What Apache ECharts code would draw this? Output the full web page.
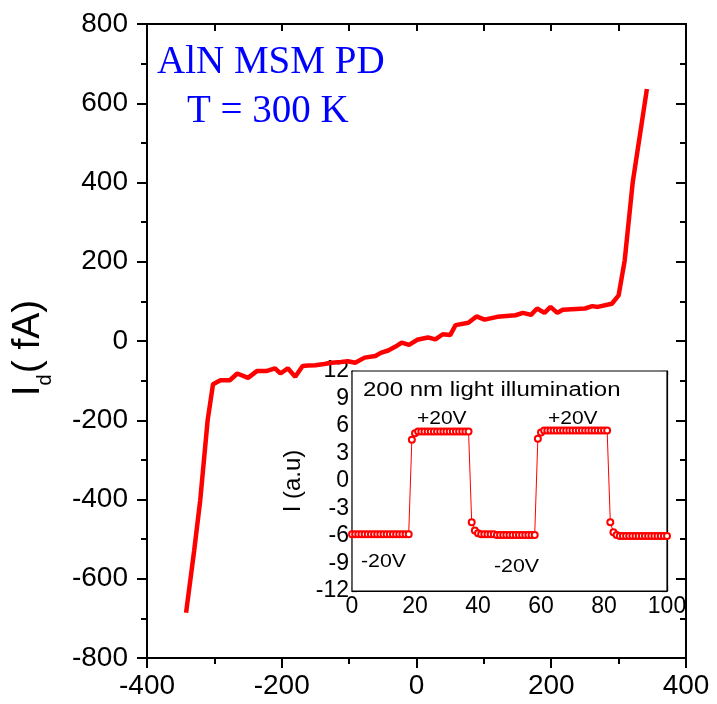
<!DOCTYPE html>
<html>
<head>
<meta charset="utf-8">
<script src="https://cdn.jsdelivr.net/npm/echarts@6/dist/echarts.min.js"></script>
<style>html,body{margin:0;padding:0;background:#fff;}#c{width:717px;height:704px;}</style>
</head>
<body>
<div id="c"></div>
<script>
// Main I-V curve (bias V, dark current fA)
var mainV = [-342,-330,-321,-310,-302,-291,-277,-266,-250,-237,-223,-210,-202,-191,-180,-169,-161,-150,-137,-126,-112,-102,-91,-77,-61,-53,-42,-31,-22,-11,1,17,28,39,50,58,77,89,101,120,147,158,170,179,190,199,209,217,250,261,269,290,300,309,321,342];
var mainI = [-686,-529,-402,-200,-109,-99,-99,-82,-93,-76,-76,-69,-82,-69,-90,-63,-62,-61,-58,-55,-53,-51,-55,-42,-38,-30,-24,-14,-4,-10,3,9,4,17,15,40,46,62,54,61,65,71,66,82,71,86,71,79,82,88,86,94,115,203,401,636];

// Inset: photocurrent switching (time, I a.u.)
var insetT = [0,1,2,3,4,5,6,7,8,9,10,11,12,13,14,15,16,17,18,
  19,20,21,22,23,24,25,26,27,28,29,30,31,32,33,34,35,36,37,
  38,39,40,41,42,43,44,45,46,47,48,49,50,51,52,53,54,55,56,57,58,
  59,60,61,62,63,64,65,66,67,68,69,70,71,72,73,74,75,76,77,78,79,80,81,
  82,83,84,85,86,87,88,89,90,91,92,93,94,95,96,97,98,99,100];
var insetI = [-5.8,-5.8,-5.8,-5.8,-5.8,-5.8,-5.8,-5.8,-5.8,-5.8,-5.8,-5.8,-5.8,-5.8,-5.8,-5.8,-5.8,-5.8,-5.8,
  4.5,5.2,5.4,5.4,5.4,5.4,5.4,5.4,5.4,5.4,5.4,5.4,5.4,5.4,5.4,5.4,5.4,5.4,5.4,
  -4.5,-5.4,-5.7,-5.8,-5.8,-5.8,-5.8,-5.8,-5.9,-5.9,-5.9,-5.9,-5.9,-5.9,-5.9,-5.9,-5.9,-5.9,-5.9,-5.9,-5.9,
  4.6,5.3,5.5,5.5,5.5,5.5,5.5,5.5,5.5,5.5,5.5,5.5,5.5,5.5,5.5,5.5,5.5,5.5,5.5,5.5,5.5,5.5,5.5,
  -4.5,-5.6,-5.9,-6.0,-6.0,-6.0,-6.0,-6.0,-6.0,-6.0,-6.0,-6.0,-6.0,-6.0,-6.0,-6.0,-6.0,-6.0,-6.0];

// Tick / label text
var mainXTicks = {min:-400, max:400, interval:200};
var mainXTopTicks = {min:-400, max:400, interval:100};
var mainYTicks = {min:-800, max:800, interval:200};
var insetXTicks = {min:0, max:100, interval:20};
var insetXTopTicks = {min:0, max:100, interval:10};
var insetYTicks = {min:-12, max:12, interval:3};
var titleLines = ['AlN MSM PD', 'T = 300 K'];
var insetTitle = '200 nm light illumination';
var biasLabels = ['+20V', '+20V', '-20V', '-20V'];

var chart = echarts.init(document.getElementById('c'), null, {renderer:'canvas'});
var black = '#000';
var FONT = 'Arial, "Liberation Sans", sans-serif';
function zip(a,b){ return a.map(function(v,i){ return [v,b[i]]; }); }

var ghostLabel = {show:true, color:'rgba(0,0,0,0)', fontSize:10};

function axis(grid, pos, t, opts){
  return {
    gridIndex:grid, position:pos, type:'value',
    min:t.min, max:t.max, interval:t.interval,
    axisLine:{show:true, onZero:false, lineStyle:{color:black, width:opts.width}},
    axisTick:{show:true, inside:opts.inside, length:opts.major, lineStyle:{color:black, width:opts.width}},
    minorTick:{show:opts.minor > 0, splitNumber:2, length:opts.minor || 0, lineStyle:{color:black, width:opts.width}},
    splitLine:{show:false},
    axisLabel:opts.label ? opts.label : ghostLabel
  };
}

var gMain = {left:147, right:26, top:24, bottom:46};
var gInset = {left:352, right:50, top:371, bottom:113};

var xAxes = [
  axis(0,'bottom',mainXTicks,{inside:false, major:10, minor:6, width:2,
    label:{fontFamily:FONT, fontSize:28, color:black, margin:14}}),
  axis(0,'top',mainXTopTicks,{inside:true, major:7, minor:0, width:2}),
  axis(1,'bottom',insetXTicks,{inside:true, major:5, minor:4, width:1.2,
    label:{fontFamily:FONT, fontSize:23, color:black, margin:4}}),
  axis(1,'top',insetXTopTicks,{inside:true, major:4, minor:0, width:1.2})
];

var yMain = axis(0,'left',mainYTicks,{inside:false, major:10, minor:6, width:2,
  label:{fontFamily:FONT, fontSize:28, color:black, margin:19}});
yMain.name = '{a|I}{b|d}{c|( fA)}';
yMain.nameLocation = 'middle';
yMain.nameGap = 98;
yMain.nameRotate = 90;
yMain.nameTextStyle = {
  rich:{
    a:{fontFamily:FONT, fontSize:39, color:black, lineHeight:40, verticalAlign:'top'},
    b:{fontFamily:FONT, fontSize:20, color:black, lineHeight:20, verticalAlign:'top', padding:[26,1,0,0]},
    c:{fontFamily:FONT, fontSize:39, color:black, lineHeight:40, verticalAlign:'top', padding:[0,14,0,0]}
  }
};
var yInset = axis(1,'left',insetYTicks,{inside:true, major:5, minor:4, width:1.2,
  label:{fontFamily:FONT, fontSize:23, color:black, margin:3}});
yInset.name = 'I (a.u)';
yInset.nameLocation = 'middle';
yInset.nameGap = 47;
yInset.nameRotate = 90;
yInset.nameTextStyle = {fontFamily:FONT, fontSize:24, color:black};

var yAxes = [
  yMain,
  axis(0,'right',mainYTicks,{inside:true, major:10, minor:6, width:2}),
  yInset,
  axis(1,'right',insetYTicks,{inside:true, major:5, minor:4, width:1.2})
];

function txt(text, x, y, size, family, color, sx){
  return {type:'text', x:x, y:y, scaleX:sx||1, z:100,
    style:{text:text, fill:color, font: size+'px '+family, align:'left', verticalAlign:'middle'}};
}
var SERIF = '"Liberation Serif", "Times New Roman", serif';

var option = {
  animation:false,
  backgroundColor:'#fff',
  grid:[
    Object.assign({show:true, borderColor:black, borderWidth:2, backgroundColor:'transparent'}, gMain),
    Object.assign({show:true, backgroundColor:'#fff', borderColor:black, borderWidth:1.2, z:5}, gInset)
  ],
  xAxis:xAxes,
  yAxis:yAxes,
  series:[
    {type:'line', xAxisIndex:0, yAxisIndex:0, data:zip(mainV, mainI), symbol:'none',
     lineStyle:{color:'#ff0000', width:4.5}, z:2},
    {type:'line', xAxisIndex:2, yAxisIndex:2, data:zip(insetT, insetI), symbol:'emptyCircle', symbolSize:6,
     itemStyle:{color:'#ff0000', borderColor:'#ff0000', borderWidth:1},
     lineStyle:{color:'#ff0000', width:1}, z:10}
  ],
  graphic:[
    txt(titleLines[0], 157, 63, 39, SERIF, '#0000ff'),
    txt(titleLines[1], 187, 112, 39, SERIF, '#0000ff'),
    txt(insetTitle, 363, 390, 20, FONT, black, 1.2),
    txt(biasLabels[0], 417, 419, 17.5, FONT, black, 1.2),
    txt(biasLabels[1], 548, 419, 17.5, FONT, black, 1.2),
    txt(biasLabels[2], 361, 562, 17.5, FONT, black, 1.22),
    txt(biasLabels[3], 494, 567, 17.5, FONT, black, 1.22)
  ]
};
chart.setOption(option);
</script>
</body>
</html>
